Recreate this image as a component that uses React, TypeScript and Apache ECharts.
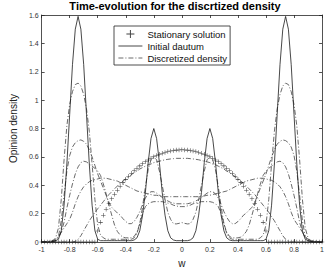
import React, { useEffect, useRef } from "react";
import * as echarts from "echarts";

const wGrid = [
  -1, -0.98, -0.96, -0.94, -0.92, -0.9, -0.88, -0.86, -0.84, -0.82,
  -0.8, -0.78, -0.76, -0.74, -0.72, -0.7, -0.68, -0.66, -0.64, -0.62,
  -0.6, -0.58, -0.56, -0.54, -0.52, -0.5, -0.48, -0.46, -0.44, -0.42,
  -0.4, -0.38, -0.36, -0.34, -0.32, -0.3, -0.28, -0.26, -0.24, -0.22,
  -0.2, -0.18, -0.16, -0.14, -0.12, -0.1, -0.08, -0.06, -0.04, -0.02,
  0,
  0.02, 0.04, 0.06, 0.08, 0.1, 0.12, 0.14, 0.16, 0.18, 0.2,
  0.22, 0.24, 0.26, 0.28, 0.3, 0.32, 0.34, 0.36, 0.38, 0.4,
  0.42, 0.44, 0.46, 0.48, 0.5, 0.52, 0.54, 0.56, 0.58, 0.6,
  0.62, 0.64, 0.66, 0.68, 0.7, 0.72, 0.74, 0.76, 0.78, 0.8,
  0.82, 0.84, 0.86, 0.88, 0.9, 0.92, 0.94, 0.96, 0.98, 1,
];

const stationary = [
  0, 0, 0, 0, 0, 0, 0, 0, 0, 0,
  0, 0, 0, 0, 0, 0, 0, 0, 0, 0,
  0.078, 0.139, 0.189, 0.232, 0.27, 0.305, 0.337, 0.366, 0.393, 0.419,
  0.442, 0.464, 0.485, 0.504, 0.521, 0.537, 0.552, 0.566, 0.579, 0.591,
  0.601, 0.61, 0.619, 0.626, 0.632, 0.638, 0.642, 0.646, 0.648, 0.649,
  0.65,
  0.649, 0.648, 0.646, 0.642, 0.638, 0.632, 0.626, 0.619, 0.61, 0.601,
  0.591, 0.579, 0.566, 0.552, 0.537, 0.521, 0.504, 0.485, 0.464, 0.442,
  0.419, 0.393, 0.366, 0.337, 0.305, 0.27, 0.232, 0.189, 0.139, 0.078,
  0, 0, 0, 0, 0, 0, 0, 0, 0, 0,
  0, 0, 0, 0, 0, 0, 0, 0, 0, 0,
];

const initialDatum = [
  0, 0, 0, 0, 0.005, 0.01, 0.02, 0.08, 0.26, 0.55,
  0.9, 1.25, 1.5, 1.59, 1.5, 1.25, 0.9, 0.55, 0.26, 0.08,
  0.02, 0.01, 0.01, 0.01, 0.01, 0.01, 0.01, 0.01, 0.01, 0.01,
  0.01, 0.01, 0.01, 0.015, 0.03, 0.08, 0.19, 0.35, 0.56, 0.73,
  0.8, 0.73, 0.56, 0.35, 0.19, 0.08, 0.03, 0.015, 0.01, 0.01,
  0.01,
  0.01, 0.01, 0.015, 0.03, 0.08, 0.19, 0.35, 0.56, 0.73, 0.8,
  0.73, 0.56, 0.35, 0.19, 0.08, 0.03, 0.015, 0.01, 0.01, 0.01,
  0.01, 0.01, 0.01, 0.01, 0.01, 0.01, 0.01, 0.01, 0.01, 0.02,
  0.08, 0.26, 0.55, 0.9, 1.25, 1.5, 1.59, 1.5, 1.25, 0.9,
  0.55, 0.26, 0.08, 0.02, 0.01, 0.005, 0, 0, 0, 0,
];

const densityT1 = [
  0, 0, 0.002, 0.005, 0.01, 0.03, 0.1, 0.3, 0.58, 0.82,
  0.97, 1.06, 1.11, 1.12, 1.1, 1.04, 0.94, 0.78, 0.55, 0.3,
  0.12, 0.05, 0.03, 0.02, 0.02, 0.02, 0.02, 0.02, 0.02, 0.02,
  0.02, 0.02, 0.02, 0.03, 0.06, 0.13, 0.25, 0.39, 0.51, 0.58,
  0.6, 0.58, 0.5, 0.4, 0.3, 0.21, 0.16, 0.13, 0.128, 0.132,
  0.138,
  0.132, 0.128, 0.13, 0.16, 0.21, 0.3, 0.4, 0.5, 0.58, 0.6,
  0.58, 0.51, 0.39, 0.25, 0.13, 0.06, 0.03, 0.02, 0.02, 0.02,
  0.02, 0.02, 0.02, 0.02, 0.02, 0.02, 0.02, 0.03, 0.05, 0.12,
  0.3, 0.55, 0.78, 0.94, 1.04, 1.1, 1.12, 1.11, 1.06, 0.97,
  0.82, 0.58, 0.3, 0.1, 0.03, 0.01, 0.005, 0.002, 0, 0,
];

const densityT2 = [
  0, 0, 0, 0.002, 0.005, 0.01, 0.04, 0.15, 0.33, 0.5,
  0.61, 0.67, 0.7, 0.715, 0.72, 0.71, 0.69, 0.65, 0.6, 0.54,
  0.48, 0.43, 0.38, 0.33, 0.28, 0.245, 0.225, 0.205, 0.19, 0.165,
  0.145, 0.13, 0.13, 0.145, 0.175, 0.215, 0.265, 0.31, 0.34, 0.355,
  0.355, 0.345, 0.33, 0.315, 0.3, 0.29, 0.28, 0.275, 0.27, 0.27,
  0.27,
  0.27, 0.27, 0.275, 0.28, 0.29, 0.3, 0.315, 0.33, 0.345, 0.355,
  0.355, 0.34, 0.31, 0.265, 0.215, 0.175, 0.145, 0.13, 0.13, 0.145,
  0.165, 0.19, 0.205, 0.225, 0.245, 0.28, 0.33, 0.38, 0.43, 0.48,
  0.54, 0.6, 0.65, 0.69, 0.71, 0.72, 0.715, 0.7, 0.67, 0.61,
  0.5, 0.33, 0.15, 0.04, 0.01, 0.005, 0.002, 0, 0, 0,
];

const densityT3 = [
  0, 0, 0, 0.002, 0.005, 0.01, 0.03, 0.07, 0.14, 0.24,
  0.33, 0.41, 0.48, 0.53, 0.56, 0.57, 0.565, 0.55, 0.535, 0.52,
  0.5, 0.47, 0.41, 0.34, 0.26, 0.19, 0.12, 0.075, 0.05, 0.035,
  0.03, 0.03, 0.03, 0.04, 0.07, 0.13, 0.2, 0.25, 0.27, 0.28,
  0.285, 0.285, 0.285, 0.285, 0.28, 0.275, 0.27, 0.26, 0.255, 0.25,
  0.25,
  0.25, 0.255, 0.26, 0.27, 0.275, 0.28, 0.285, 0.285, 0.285, 0.285,
  0.28, 0.27, 0.25, 0.2, 0.13, 0.07, 0.04, 0.03, 0.03, 0.03,
  0.035, 0.05, 0.075, 0.12, 0.19, 0.26, 0.34, 0.41, 0.47, 0.5,
  0.52, 0.535, 0.55, 0.565, 0.57, 0.56, 0.53, 0.48, 0.41, 0.33,
  0.24, 0.14, 0.07, 0.03, 0.01, 0.005, 0.002, 0, 0, 0,
];

const densityT4 = [
  0, 0.002, 0.005, 0.008, 0.01, 0.02, 0.04, 0.07, 0.1, 0.13,
  0.16, 0.21, 0.27, 0.32, 0.36, 0.39, 0.41, 0.425, 0.435, 0.44,
  0.445, 0.45, 0.45, 0.45, 0.445, 0.44, 0.435, 0.43, 0.42, 0.41,
  0.4, 0.39, 0.38, 0.37, 0.36, 0.355, 0.35, 0.345, 0.34, 0.335,
  0.33, 0.33, 0.325, 0.325, 0.32, 0.32, 0.32, 0.32, 0.32, 0.32,
  0.32,
  0.32, 0.32, 0.32, 0.32, 0.32, 0.32, 0.325, 0.325, 0.33, 0.33,
  0.335, 0.34, 0.345, 0.35, 0.355, 0.36, 0.37, 0.38, 0.39, 0.4,
  0.41, 0.42, 0.43, 0.435, 0.44, 0.445, 0.45, 0.45, 0.45, 0.445,
  0.44, 0.435, 0.425, 0.41, 0.39, 0.36, 0.32, 0.27, 0.21, 0.16,
  0.13, 0.1, 0.07, 0.04, 0.02, 0.01, 0.008, 0.005, 0.002, 0,
];

const densityT5 = [
  0, 0, 0, 0, 0, 0, 0, 0, 0, 0,
  0, 0, 0.005, 0.02, 0.045, 0.08, 0.115, 0.15, 0.18, 0.21,
  0.235, 0.26, 0.285, 0.31, 0.335, 0.355, 0.375, 0.395, 0.415, 0.43,
  0.445, 0.46, 0.475, 0.49, 0.5, 0.515, 0.525, 0.535, 0.545, 0.55,
  0.56, 0.565, 0.57, 0.575, 0.58, 0.583, 0.586, 0.588, 0.59, 0.59,
  0.59,
  0.59, 0.59, 0.588, 0.586, 0.583, 0.58, 0.575, 0.57, 0.565, 0.56,
  0.55, 0.545, 0.535, 0.525, 0.515, 0.5, 0.49, 0.475, 0.46, 0.445,
  0.43, 0.415, 0.395, 0.375, 0.355, 0.335, 0.31, 0.285, 0.26, 0.235,
  0.21, 0.18, 0.15, 0.115, 0.08, 0.045, 0.02, 0.005, 0, 0,
  0, 0, 0, 0, 0, 0, 0, 0, 0, 0,
];

const discretizedSeries = [densityT1, densityT2, densityT3, densityT4, densityT5];

const xTicks = { min: -1, max: 1, interval: 0.2 };
const yTicks = { min: 0, max: 1.6, interval: 0.2 };

const titleText = "Time-evolution for the discrtized density";
const names = ["Stationary solution", "Initial dautum", "Discretized density"];

const FONT = "'Liberation Sans', Arial, Helvetica, sans-serif";
const PLUS = "path://M4.4,0L5.6,0L5.6,4.4L10,4.4L10,5.6L5.6,5.6L5.6,10L4.4,10L4.4,5.6L0,5.6L0,4.4L4.4,4.4Z";

const pairs = (ys: number[]) => ys.map((v, i) => [wGrid[i], v]);

export default function App() {
  const ref = useRef<HTMLDivElement>(null);
  useEffect(() => {
    if (!ref.current) return;
    const chart = echarts.init(ref.current, undefined, { renderer: "svg" });
    const axisColor = "#262626";
    const baseAxis = {
      type: "value",
      splitLine: { show: false },
      axisLine: { show: true, onZero: false, lineStyle: { color: axisColor, width: 0.8 } },
      axisTick: { show: true, inside: true, length: 3, lineStyle: { color: axisColor, width: 0.8 } },
    };
    const dashDot = [5, 2, 1, 2];
    const hiddenSymbol = { opacity: 0, color: "rgba(0,0,0,0)", borderWidth: 0 };
    chart.setOption({
      animation: false,
      textStyle: { fontFamily: FONT },
      title: {
        text: titleText,
        left: 175,
        top: 0,
        padding: 0,
        textAlign: "center",
        textStyle: { fontSize: 11, fontWeight: "bold", color: "#000", fontFamily: FONT, lineHeight: 12 },
      },
      grid: { left: 25, right: 2, top: 15, bottom: 24, containLabel: false },
      legend: {
        orient: "vertical",
        left: 114,
        top: 26,
        backgroundColor: "#fff",
        borderColor: "#222",
        borderWidth: 0.8,
        padding: [2, 3, 1, 4],
        itemGap: 0,
        itemWidth: 24,
        itemHeight: 8,
        lineStyle: { width: 0.8 },
        textStyle: { fontSize: 9.5, color: "#111", lineHeight: 12, height: 12, fontFamily: FONT },
        data: [
          { name: names[0] },
          { name: names[1], itemStyle: hiddenSymbol },
          { name: names[2], itemStyle: hiddenSymbol },
        ],
      },
      xAxis: [
        {
          ...baseAxis,
          ...xTicks,
          position: "bottom",
          name: "w",
          nameLocation: "middle",
          nameGap: 13,
          nameTextStyle: { fontSize: 10, color: "#222", fontFamily: FONT },
          axisLabel: { fontSize: 7, color: "#333", margin: 4, fontFamily: FONT },
        },
        {
          ...baseAxis,
          ...xTicks,
          position: "top",
          axisLabel: { show: false },
        },
      ],
      yAxis: [
        {
          ...baseAxis,
          ...yTicks,
          position: "left",
          name: "Opinion density",
          nameLocation: "middle",
          nameGap: 15,
          nameTextStyle: { fontSize: 10, color: "#222", fontFamily: FONT },
          axisLabel: { fontSize: 7, color: "#333", margin: 3, fontFamily: FONT },
        },
        {
          ...baseAxis,
          ...yTicks,
          position: "right",
          axisLabel: { show: false },
        },
      ],
      series: [
        ...discretizedSeries.map((ys) => ({
          name: names[2],
          type: "line",
          data: pairs(ys),
          symbol: "none",
          lineStyle: { color: "#444", width: 0.8, type: dashDot },
          itemStyle: { color: "#444" },
          z: 2,
        })),
        {
          name: names[1],
          type: "line",
          data: pairs(initialDatum),
          symbol: "none",
          lineStyle: { color: "#1a1a1a", width: 0.8, type: "solid" },
          itemStyle: { color: "#1a1a1a" },
          z: 3,
        },
        {
          name: names[0],
          type: "scatter",
          data: pairs(stationary),
          symbol: PLUS,
          symbolSize: 4.5,
          itemStyle: { color: "#111" },
          z: 4,
        },
      ],
    });
    return () => chart.dispose();
  }, []);
  return (
    <div
      ref={ref}
      style={{ position: "absolute", left: 0, top: 0, width: 327, height: 273, background: "#fff" }}
    />
  );
}
